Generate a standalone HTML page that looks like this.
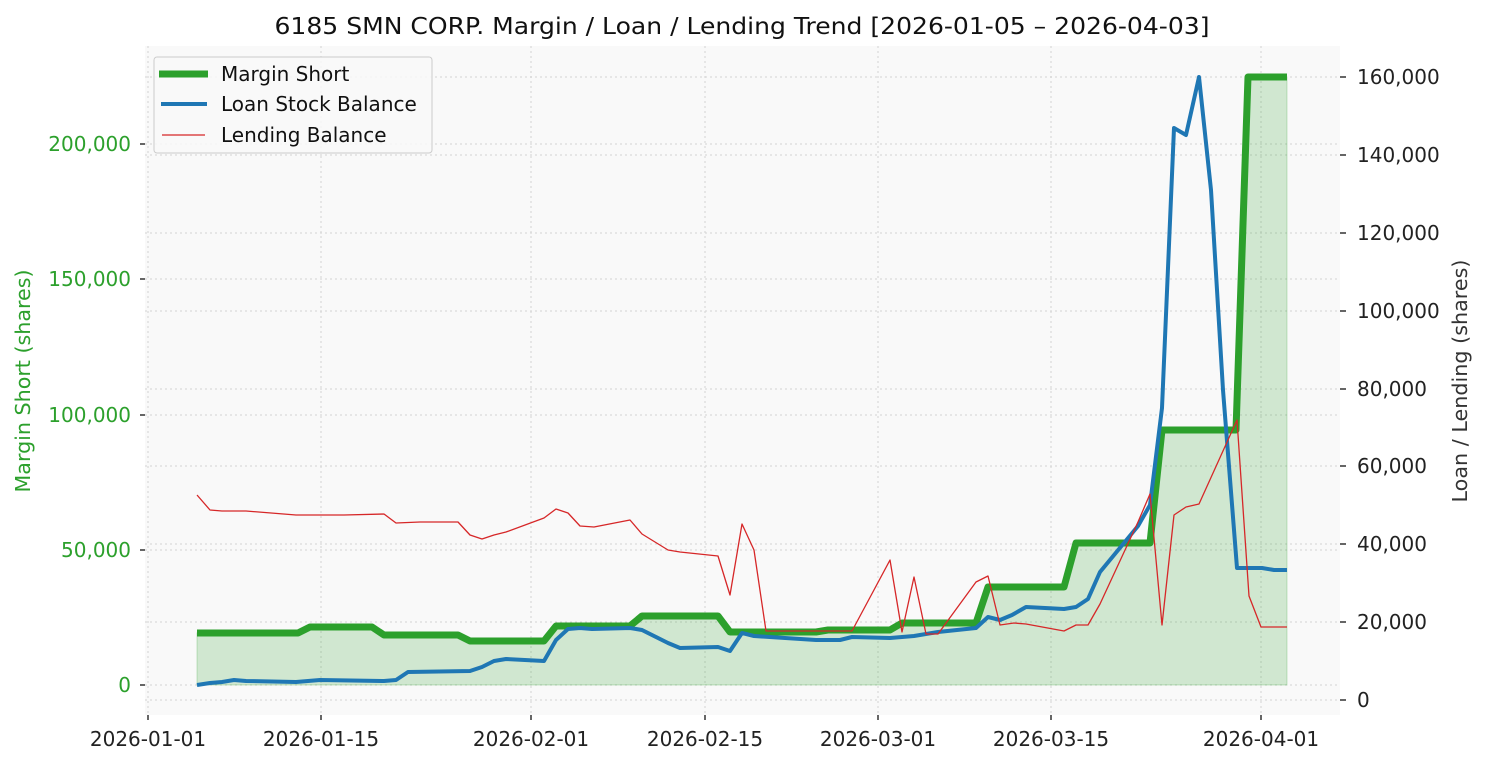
<!DOCTYPE html>
<html><head><meta charset="utf-8"><style>body{margin:0;background:#fff}svg{display:block;font-family:"DejaVu Sans","Liberation Sans",sans-serif}</style></head><body>
<svg width="1485" height="765" viewBox="0 0 1485 765" xmlns="http://www.w3.org/2000/svg">
<rect x="145" y="46" width="1195" height="669" fill="#f9f9f9"/>
<g stroke="#d4d4d4" stroke-width="1" stroke-dasharray="2,3">
<line x1="148" y1="46" x2="148" y2="715"/><line x1="321" y1="46" x2="321" y2="715"/><line x1="531" y1="46" x2="531" y2="715"/><line x1="705" y1="46" x2="705" y2="715"/><line x1="878" y1="46" x2="878" y2="715"/><line x1="1051" y1="46" x2="1051" y2="715"/><line x1="1261" y1="46" x2="1261" y2="715"/>
<line x1="145" y1="685" x2="1340" y2="685"/><line x1="145" y1="550" x2="1340" y2="550"/><line x1="145" y1="415" x2="1340" y2="415"/><line x1="145" y1="279" x2="1340" y2="279"/><line x1="145" y1="144" x2="1340" y2="144"/>
<line x1="145" y1="700" x2="1340" y2="700"/><line x1="145" y1="622" x2="1340" y2="622"/><line x1="145" y1="544" x2="1340" y2="544"/><line x1="145" y1="466" x2="1340" y2="466"/><line x1="145" y1="389" x2="1340" y2="389"/><line x1="145" y1="311" x2="1340" y2="311"/><line x1="145" y1="233" x2="1340" y2="233"/><line x1="145" y1="155" x2="1340" y2="155"/><line x1="145" y1="77" x2="1340" y2="77"/>
</g>
<polygon fill="#2ca02c" fill-opacity="0.2" stroke="#2ca02c" stroke-opacity="0.25" points="197,685 197,633 298,633 310,627 372,627 384,635 458,635 470,641 544,641 556,626 630,626 642,616 718,616 730,632 816,632 828,630 890,630 902,623 976,623 988,587 1064,587 1076,543 1150,543 1162,430 1236,430 1248,77 1287,77 1287,685"/>
<polyline fill="none" stroke="#2ca02c" stroke-width="7" stroke-linejoin="round" points="197,633 298,633 310,627 372,627 384,635 458,635 470,641 544,641 556,626 630,626 642,616 718,616 730,632 816,632 828,630 890,630 902,623 976,623 988,587 1064,587 1076,543 1150,543 1162,430 1236,430 1248,77 1287,77"/>
<polyline fill="none" stroke="#1f77b4" stroke-width="4" stroke-linejoin="round" points="197,685 210,683 222,682 234,680 246,681 296,682 308,681 320,680 384,681 396,680 408,672 470,671 482,667 494,661 506,659 544,661 556,640 568,629 580,628 592,629 630,628 642,630 668,643 680,648 718,647 730,651 742,633 754,636 816,640 840,640 852,637 890,638 914,636 938,632 976,628 988,617 1000,620 1012,615 1026,607 1064,609 1076,607 1088,599 1100,572 1138,526 1150,505 1162,408 1174,128 1186,135 1199,77 1211,190 1223,390 1237,568 1262,568 1274,570 1287,570"/>
<polyline fill="none" stroke="#d62728" stroke-width="1.3" stroke-linejoin="round" points="197,495 210,510 222,511 246,511 296,515 320,515 344,515 384,514 396,523 420,522 458,522 470,535 482,539 494,535 506,532 544,518 556,509 568,513 580,526 594,527 630,520 642,534 668,550 680,552 718,556 730,595 742,524 754,550 766,631 816,631 852,631 890,560 902,632 914,577 926,634 938,634 976,582 988,576 1000,625 1014,623 1026,624 1064,631 1076,625 1088,625 1100,604 1138,522 1150,494 1162,625 1174,515 1186,507 1199,504 1237,420 1249,596 1261,627 1287,627"/>
<g stroke="#333" stroke-width="1.5">
<line x1="148" y1="715" x2="148" y2="720"/><line x1="321" y1="715" x2="321" y2="720"/><line x1="531" y1="715" x2="531" y2="720"/><line x1="705" y1="715" x2="705" y2="720"/><line x1="878" y1="715" x2="878" y2="720"/><line x1="1051" y1="715" x2="1051" y2="720"/><line x1="1261" y1="715" x2="1261" y2="720"/>
<line x1="140" y1="685" x2="145" y2="685"/><line x1="140" y1="550" x2="145" y2="550"/><line x1="140" y1="415" x2="145" y2="415"/><line x1="140" y1="279" x2="145" y2="279"/><line x1="140" y1="144" x2="145" y2="144"/>
<line x1="1340" y1="700" x2="1346" y2="700"/><line x1="1340" y1="622" x2="1346" y2="622"/><line x1="1340" y1="544" x2="1346" y2="544"/><line x1="1340" y1="466" x2="1346" y2="466"/><line x1="1340" y1="389" x2="1346" y2="389"/><line x1="1340" y1="311" x2="1346" y2="311"/><line x1="1340" y1="233" x2="1346" y2="233"/><line x1="1340" y1="155" x2="1346" y2="155"/><line x1="1340" y1="77" x2="1346" y2="77"/>
</g>
<g font-size="20" fill="#222" text-anchor="middle">
<text x="148" y="746">2026-01-01</text><text x="321" y="746">2026-01-15</text><text x="531" y="746">2026-02-01</text><text x="705" y="746">2026-02-15</text><text x="878" y="746">2026-03-01</text><text x="1051" y="746">2026-03-15</text><text x="1261" y="746">2026-04-01</text>
</g>
<g font-size="20" fill="#2ca02c" text-anchor="end">
<text x="131" y="692">0</text><text x="131" y="557">50,000</text><text x="131" y="422">100,000</text><text x="131" y="286">150,000</text><text x="131" y="151">200,000</text>
</g>
<g font-size="20" fill="#222" text-anchor="start">
<text x="1357" y="707">0</text><text x="1357" y="629">20,000</text><text x="1357" y="551">40,000</text><text x="1357" y="473">60,000</text><text x="1357" y="396">80,000</text><text x="1357" y="318">100,000</text><text x="1357" y="240">120,000</text><text x="1357" y="162">140,000</text><text x="1357" y="84">160,000</text>
</g>
<text transform="translate(30,381) rotate(-90)" font-size="20" fill="#2ca02c" text-anchor="middle" textLength="223" lengthAdjust="spacingAndGlyphs">Margin Short (shares)</text>
<text transform="translate(1467,381) rotate(-90)" font-size="20" fill="#333" text-anchor="middle" textLength="243" lengthAdjust="spacingAndGlyphs">Loan / Lending (shares)</text>
<text x="742" y="34" font-size="23" fill="#111" text-anchor="middle" textLength="935" lengthAdjust="spacingAndGlyphs">6185 SMN CORP. Margin / Loan / Lending Trend [2026-01-05 – 2026-04-03]</text>
<rect x="154" y="57" width="278" height="96" rx="3" fill="#f9f9f9" fill-opacity="0.85" stroke="#ccc"/>
<line x1="159" y1="74" x2="208" y2="74" stroke="#2ca02c" stroke-width="7"/>
<line x1="161" y1="104" x2="207" y2="104" stroke="#1f77b4" stroke-width="4"/>
<line x1="162" y1="135" x2="205" y2="135" stroke="#d62728" stroke-width="1.3"/>
<g font-size="20" fill="#111"><text x="221" y="81">Margin Short</text><text x="221" y="111">Loan Stock Balance</text><text x="221" y="142">Lending Balance</text></g>
</svg>
</body></html>
